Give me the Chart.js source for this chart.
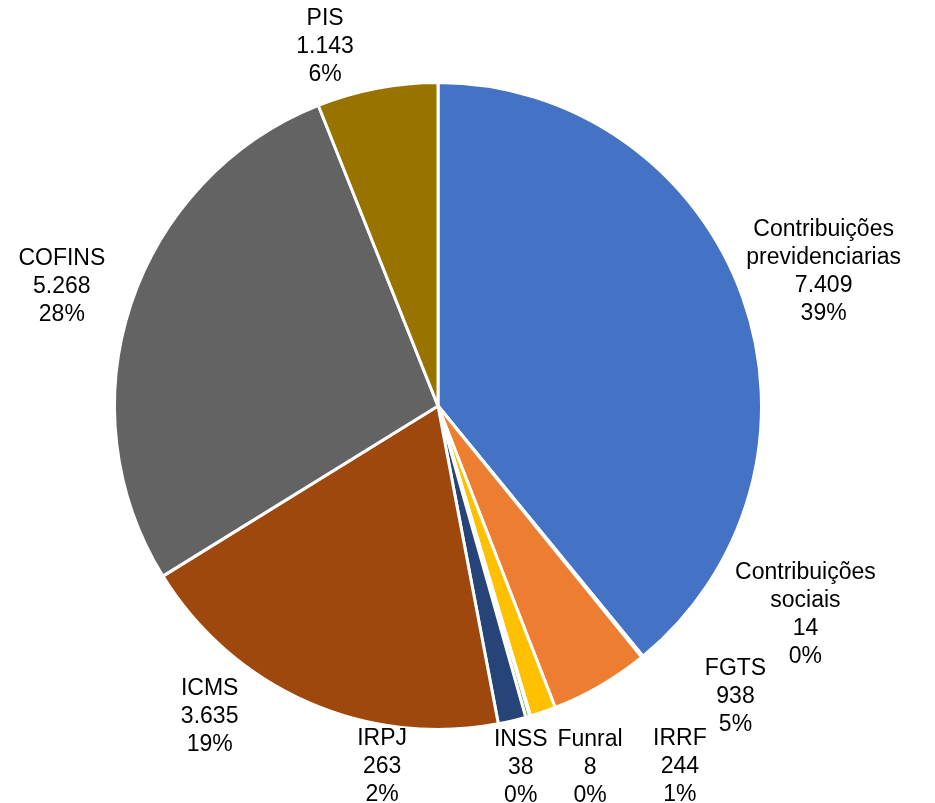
<!DOCTYPE html>
<html>
<head>
<meta charset="utf-8">
<script src="https://cdn.jsdelivr.net/npm/chart.js@4.4.1/dist/chart.umd.min.js"></script>
<style>
  html, body { margin: 0; padding: 0; background: #fff; }
  #wrap { width: 935px; height: 803px; }
</style>
</head>
<body>
<div id="wrap"><canvas id="chart"></canvas></div>
<script>
// slices, clockwise from 12 o'clock
const categories = [
  'Contribuições\nprevidenciarias',
  'Contribuições\nsociais',
  'FGTS',
  'IRRF',
  'Funral',
  'INSS',
  'IRPJ',
  'ICMS',
  'COFINS',
  'PIS'
]
const values = [7409, 14, 938, 244, 8, 38, 263, 3635, 5268, 1143]
const colors = ['#4472C4', '#A5A5A5', '#ED7D31', '#FFC000', '#5B9BD5', '#70AD47', '#264478', '#9E480E', '#636363', '#997300']

// label shift (px) from the point where the slice middle meets the rim
const labelNudge = [
  [81, -25], [163, -42], [135, 11], [137, 55], [60, 52],
  [-7, 51], [-130, 46], [-98, 15], [-69, -18], [-52, -42]
]

function fmt(n) {
  return String(n).replace(/\B(?=(\d{3})+(?!\d))/g, '.')
}

// whole percents that add up to 100 (largest remainder, like Excel)
function percents(vals) {
  const total = vals.reduce((a, b) => a + b, 0)
  const raw = vals.map(v => v / total * 100)
  const out = raw.map(Math.floor)
  let left = 100 - out.reduce((a, b) => a + b, 0)
  raw.map((r, i) => [r - Math.floor(r), i])
    .sort((a, b) => b[0] - a[0])
    .forEach(([, i]) => { if (left > 0) { out[i]++; left-- } })
  return out
}

const sliceLabels = {
  id: 'sliceLabels',
  afterDatasetsDraw(chart) {
    const ctx = chart.ctx
    const meta = chart.getDatasetMeta(0)
    const pct = percents(values)
    ctx.save()
    ctx.font = '23px "Liberation Sans", Arial, sans-serif'
    ctx.fillStyle = '#000'
    ctx.textAlign = 'center'
    ctx.textBaseline = 'middle'
    const lh = 28
    meta.data.forEach((arc, i) => {
      const p = arc.getProps(['x', 'y', 'startAngle', 'endAngle', 'outerRadius'], true)
      const mid = (p.startAngle + p.endAngle) / 2
      const cx = p.x + Math.cos(mid) * p.outerRadius + labelNudge[i][0]
      const cy = p.y + Math.sin(mid) * p.outerRadius + labelNudge[i][1]
      const lines = categories[i].split('\n')
      lines.push(fmt(values[i]))
      lines.push(pct[i] + '%')
      const top = cy - (lines.length - 1) * lh / 2
      lines.forEach((t, k) => ctx.fillText(t, cx, top + k * lh))
    })
    ctx.restore()
  }
}

new Chart(document.getElementById('chart').getContext('2d'), {
  type: 'pie',
  data: {
    labels: categories,
    datasets: [{
      data: values,
      backgroundColor: colors,
      borderColor: '#fff',
      borderWidth: 3
    }]
  },
  options: {
    responsive: true,
    maintainAspectRatio: false,
    animation: false,
    layout: { padding: { left: 113, right: 172, top: 81, bottom: 72 } },
    plugins: {
      legend: { display: false },
      tooltip: { enabled: false }
    }
  },
  plugins: [sliceLabels]
})
</script>
</body>
</html>
